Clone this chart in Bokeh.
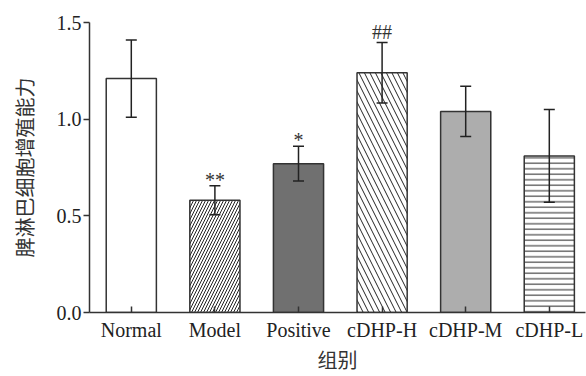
from bokeh.plotting import figure
from bokeh.models import ColumnDataSource, Whisker, TeeHead, FixedTicker
from bokeh.core.properties import value
from bokeh.embed import file_html
from bokeh.resources import INLINE

groups = ["Normal", "Model", "Positive", "cDHP-H", "cDHP-M", "cDHP-L"]
means = [1.21, 0.58, 0.77, 1.24, 1.04, 0.81]
errs = [0.20, 0.075, 0.09, 0.157, 0.13, 0.24]
marks = ["", "**", "*", "##", "", ""]
fills = ["white", "white", "#707070", "white", "#adadad", "white"]
hatches = [" ", "/", " ", "\\", " ", "-"]
hatch_scales = [6, 6, 6, 11, 6, 5.5]
x_title = "组别"
y_title = "脾淋巴细胞增殖能力"

xs = list(range(len(groups)))
src = ColumnDataSource(dict(
    x=xs, top=means,
    upper=[m + e for m, e in zip(means, errs)],
    lower=[m - e for m, e in zip(means, errs)],
    fill=fills, hatch=hatches, hs=hatch_scales, mark=marks,
    yoff=[-6 if "*" in m else -10 for m in marks],
))

SERIF = "Liberation Serif"
CJK = "Noto Sans CJK SC"
DARK = "#333333"

p = figure(width=586, height=376, output_backend="svg", toolbar_location=None,
           x_range=(-0.5, 5.433), y_range=(0, 1.5),
           min_border_left=89, min_border_top=22, min_border_bottom=64, min_border_right=1)
p.outline_line_color = None
p.grid.grid_line_color = None
p.background_fill_color = "white"
p.border_fill_color = "white"

p.vbar(x="x", top="top", bottom=0, width=0.6, source=src,
       fill_color="fill", line_color=DARK, line_width=1.5,
       hatch_pattern="hatch", hatch_scale="hs", hatch_color="#222222", hatch_weight=1.0)

w = Whisker(base="x", upper="upper", lower="lower", source=src, level="overlay",
            line_color="#222222", line_width=1.5,
            upper_head=TeeHead(size=11, line_color="#222222", line_width=1.5),
            lower_head=TeeHead(size=11, line_color="#222222", line_width=1.5))
p.add_layout(w)

p.text(x="x", y="upper", text="mark", source=src, text_align="center",
       text_baseline="alphabetic", text_font=value(SERIF), text_font_size="20px",
       text_color=DARK, y_offset="yoff")

p.xaxis.ticker = FixedTicker(ticks=xs)
p.xaxis.major_label_overrides = {i: g for i, g in enumerate(groups)}
p.xaxis.major_tick_in = 6
p.xaxis.major_tick_out = 0
p.xaxis.minor_tick_line_color = None
p.xaxis.axis_label = x_title

p.yaxis.ticker = FixedTicker(ticks=[0, 0.5, 1.0, 1.5])
p.yaxis.major_label_overrides = {0: "0.0", 0.5: "0.5", 1: "1.0", 1.5: "1.5"}
p.yaxis.major_tick_in = 0
p.yaxis.major_tick_out = 6
p.yaxis.minor_tick_line_color = None
p.yaxis.axis_label = y_title

for ax in (p.xaxis, p.yaxis):
    ax.axis_line_color = DARK
    ax.axis_line_width = 1.5
    ax.major_tick_line_color = DARK
    ax.major_tick_line_width = 1.5
    ax.major_label_text_font = SERIF
    ax.major_label_text_font_size = "20px"
    ax.major_label_text_color = "#222222"
    ax.axis_label_text_font = CJK
    ax.axis_label_text_font_size = "20px"
    ax.axis_label_text_font_style = "normal"
    ax.axis_label_text_color = DARK

p.xaxis.major_label_standoff = 6
p.xaxis.axis_label_standoff = 1
p.yaxis.major_label_standoff = 2
p.yaxis.axis_label_standoff = 15

open("out.html", "w").write(file_html(p, INLINE))
